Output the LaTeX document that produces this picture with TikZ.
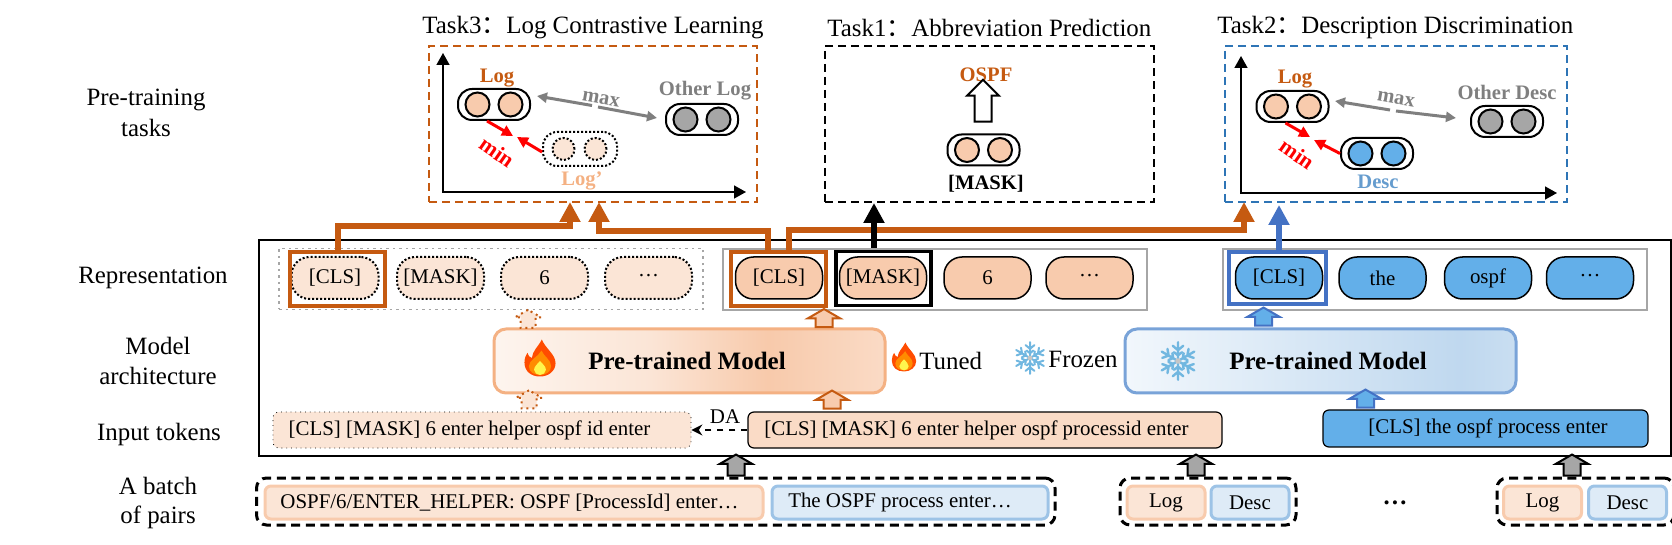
\documentclass[tikz,border=0pt]{standalone}
\usepackage{fontspec}
\setmainfont{Liberation Serif}
\newfontfamily\cjkfont{Noto Sans CJK SC}
\usetikzlibrary{arrows.meta,shapes.arrows}
\definecolor{rust}{HTML}{C55A11}
\definecolor{peach}{HTML}{F8CBAD}
\definecolor{peachlight}{HTML}{FBE5D6}
\definecolor{peachline}{HTML}{F4B183}
\definecolor{sky}{HTML}{63AFE9}
\definecolor{skylight}{HTML}{DEEBF7}
\definecolor{skyline}{HTML}{9DC3E6}
\definecolor{royal}{HTML}{4472C4}
\definecolor{taskblue}{HTML}{2E75B6}
\definecolor{midgray}{HTML}{7F7F7F}
\definecolor{softgray}{HTML}{A6A6A6}
\pgfdeclarehorizontalshading{modelorange}{100bp}{color(0bp)=(white!60!peachlight);color(25bp)=(white!60!peachlight);color(45bp)=(peachlight);color(60bp)=(peach!95!peachline);color(75bp)=(peach!70!white);color(100bp)=(peach!70!white)}
\pgfdeclarehorizontalshading{modelblue}{100bp}{color(0bp)=(skylight!40!white);color(25bp)=(skylight!40!white);color(42bp)=(skylight);color(68bp)=(skyline!65!white);color(75bp)=(skyline!55!white);color(100bp)=(skyline!55!white)}
\tikzset{
    txt/.style={font=\fontsize{12.45}{15}\selectfont,inner sep=0pt},
    tok/.style={font=\fontsize{10.45}{12}\selectfont},
    lab/.style={font=\fontsize{10.3}{12}\selectfont\bfseries,inner sep=0pt},
    pill/.style={tok,draw,line width=.75pt,rounded corners=9pt,minimum width=43.5pt,minimum height=21pt,inner sep=0pt},
    pilldot/.style={pill,fill=peachlight,line width=1pt,dash pattern=on 1pt off 1pt},
    square/.style={draw,line width=1.75pt,minimum width=47.5pt,minimum height=27pt,inner sep=0pt},
    group/.style={draw=softgray,line width=1.25pt,minimum width=212pt,minimum height=30.5pt,inner sep=0pt},
    model/.style={draw,line width=1.5pt,rounded corners=6pt,minimum width=195.5pt,minimum height=32pt,inner sep=0pt,font=\fontsize{12.5}{15}\selectfont\bfseries},
    input/.style={tok,rounded corners=3pt,minimum height=18pt,inner sep=0pt},
    logbox/.style={tok,draw=peach,fill=peachlight,line width=1.5pt,rounded corners=3pt,minimum height=16.5pt,minimum width=39pt,inner sep=0pt},
    descbox/.style={logbox,draw=skyline,fill=skylight},
    batch/.style={draw,line width=1.5pt,dash pattern=on 4.5pt off 2.8pt,rounded corners=5pt,minimum height=23.5pt,inner sep=0pt},
    taskbox/.style={draw,line width=1pt,dash pattern=on 4pt off 2.5pt,minimum height=78pt,inner sep=0pt},
    duo/.style={draw,fill=white,line width=1pt,rounded corners=7pt,minimum width=36pt,minimum height=15.5pt,inner sep=0pt},
    bead/.style={circle,draw,line width=1pt,minimum size=12pt,inner sep=0pt},
    block/.style={single arrow,draw,line width=1pt,shape border rotate=90,minimum height=9pt,minimum width=15pt,inner ysep=.5pt,inner xsep=3.75pt,single arrow head extend=3.75pt,single arrow tip angle=120},
    axisline/.style={line width=.75pt,{Triangle[length=6pt,width=6.5pt]}-{Triangle[length=6pt,width=6.5pt]}},
    route/.style={line width=3pt,-{Triangle[length=10pt,width=10pt]}},
    graymark/.style={draw=midgray,line width=1.5pt,-{Triangle[length=5pt,width=5pt]}},
    redmark/.style={draw=red,line width=1.5pt,-{Triangle[length=5.5pt,width=5.5pt]}},
}
\newcommand{\flameicon}[3]{%
    \begin{scope}[shift={(#1,#2)},scale=#3]
        \fill[orange!60!red] (0.05,-0.5) .. controls (0.15,-0.25) and (0.42,-0.1) .. (0.42,0.14) .. controls (0.42,0.36) and (0.22,0.5) .. (0,0.5) .. controls (-0.24,0.5) and (-0.42,0.36) .. (-0.42,0.12) .. controls (-0.42,0) and (-0.38,-0.08) .. (-0.34,-0.14) .. controls (-0.32,-0.06) and (-0.28,-0.02) .. (-0.22,0) .. controls (-0.2,-0.2) and (-0.05,-0.3) .. (0.05,-0.5) -- cycle;
        \fill[orange!90!yellow] (0.04,-0.2) .. controls (0.1,-0.05) and (0.3,0.05) .. (0.3,0.22) .. controls (0.3,0.38) and (0.15,0.46) .. (0,0.46) .. controls (-0.16,0.46) and (-0.3,0.38) .. (-0.3,0.22) .. controls (-0.3,0.05) and (-0.06,-0.02) .. (0.04,-0.2) -- cycle;
        \fill[yellow!70!white] (0,0.08) .. controls (0.06,0.16) and (0.16,0.22) .. (0.16,0.32) .. controls (0.16,0.4) and (0.08,0.46) .. (0,0.46) .. controls (-0.08,0.46) and (-0.16,0.4) .. (-0.16,0.32) .. controls (-0.16,0.22) and (-0.06,0.16) .. (0,0.08) -- cycle;
    \end{scope}%
}
\newcommand{\snowicon}[4]{%
    \begin{scope}[shift={(#1,#2)},scale=#3,line cap=round]
        \foreach \a in {0,60,...,300}{
            \draw[rotate=\a,line width=#4,cyan!35!skyline] (0,0)--(0,-0.47)
            (-0.13,-0.38)--(0,-0.27)--(0.13,-0.38)
            (-0.1,-0.22)--(0,-0.14)--(0.1,-0.22);
        }
        \fill[gray!45] (0,0) circle (0.07);
    \end{scope}%
}
\begin{document}
\begin{tikzpicture}[x=.5pt,y=-.5pt]
    \useasboundingbox (0,0) rectangle (1672,545);
    % row labels on the left
    \path
    (146,100) node[txt] (lblpre) {Pre-training}
    (146,128) node[txt] (lbltasks) {tasks}
    (153,278) node[txt] (lblrep) {Representation}
    (158,346) node[txt] (lblmodel) {Model}
    (158,376) node[txt] (lblarch) {architecture}
    (159,435) node[txt] (lblinput) {Input tokens}
    (158,486) node[txt] (lblbatch) {A batch}
    (158,517) node[txt] (lblpairs) {of pairs};
    % tasks
    \node[taskbox,draw=rust,minimum width=164pt] (task3) at (593,124) {};
    \node[taskbox,minimum width=164.5pt] (task1) at (989.5,124) {};
    \node[taskbox,draw=taskblue,minimum width=171pt] (task2) at (1396,124) {};
    \path
    (422,28) node[txt,anchor=west] (title3) {Task3{\cjkfont ：}Log Contrastive Learning}
    (827,28) node[txt,anchor=west] (title1) {Task1{\cjkfont ：}Abbreviation Prediction}
    (1217,28) node[txt,anchor=west] (title2) {Task2{\cjkfont ：}Description Discrimination};
    \draw[axisline] (443,53)--(443,192)--(746,192);
    \draw[axisline] (1241,56)--(1241,193)--(1557,193);
    \foreach \n/\x/\y/\c in {logC/494/104.5/peach,otherC/702/119.5/softgray,logD/1292.5/106.5/peach,descD/1377/153.5/sky,otherD/1507/121.5/softgray,maskT/983.5/150/peach}{
        \node[duo] (\n) at (\x,\y) {};
        \node[bead,fill=\c] (\n a) at (\x-16.5,\y) {};
        \node[bead,fill=\c] (\n b) at (\x+16.5,\y) {};
    }
    \node[duo,line width=1pt,dash pattern=on 1pt off 1pt,minimum width=37pt,minimum height=17pt] (logA) at (580,149) {};
    \node[bead,dash pattern=on 1pt off 1pt,fill=peachlight,minimum size=11pt] (logAa) at (563.5,149) {};
    \node[bead,dash pattern=on 1pt off 1pt,fill=peachlight,minimum size=11pt] (logAb) at (595.5,149) {};
    \path
    (497,78) node[lab,text=rust] (txtlogC) {Log}
    (705,91) node[lab,text=midgray] (txtotherC) {Other Log}
    (582,181) node[lab,text=peachline] (txtlogA) {Log’}
    (601,99) node[lab,text=midgray,rotate=-10] (txtmaxC) {max}
    (497,152) node[lab,text=red,rotate=-35,font=\fontsize{11}{12}\selectfont\bfseries] (txtminC) {min}
    (1295,79) node[lab,text=rust] (txtlogD) {Log}
    (1507,92) node[lab,text=midgray] (txtotherD) {Other Desc}
    (1378,182) node[lab,text=skyline!50!taskblue] (txtdescD) {Desc}
    (1396,99) node[lab,text=midgray,rotate=-10] (txtmaxD) {max}
    (1297,154) node[lab,text=red,rotate=-35,font=\fontsize{11}{12}\selectfont\bfseries] (txtminD) {min}
    (986,75) node[lab,text=rust] (txtospf) {OSPF}
    (986,184) node[lab] (txtmask) {[MASK]};
    \node[block,fill=white,minimum height=21pt,minimum width=15pt,single arrow tip angle=90] (predarrow) at (983,105) {};
    % max and min marks
    \coordinate (maxCl) at (537,96); \coordinate (gapCl) at (592,105.5);
    \coordinate (maxCr) at (657,118); \coordinate (gapCr) at (598,107);
    \coordinate (maxDl) at (1335,101); \coordinate (gapDl) at (1390,110);
    \coordinate (maxDr) at (1456,118); \coordinate (gapDr) at (1396,111);
    \foreach \a/\b in {gapCl/maxCl,gapCr/maxCr,gapDl/maxDl,gapDr/maxDr}
    \draw[graymark] (\a)--(\b);
    \coordinate (tipCa) at (513,136); \coordinate (tipCb) at (517,137);
    \coordinate (tipDa) at (1310,137); \coordinate (tipDb) at (1314,140);
    \draw[redmark] ([xshift=-3.5pt]logC.south)--(tipCa);
    \draw[redmark] ([yshift=-1.5pt]logA.west)--(tipCb);
    \draw[redmark] ([xshift=-3.5pt]logD.south)--(tipDa);
    \draw[redmark] (descD.west)--(tipDb);
    % outer frame and representation row
    \node[draw,line width=1.25pt,minimum width=706.25pt,minimum height=108pt,inner sep=0pt] (frame) at (965,348) {};
    \node[group,dotted,line width=.75pt] (repA) at (491,279) {};
    \node[group] (repS) at (935,279.5) {};
    \node[group] (repB) at (1435,279.5) {};
    \foreach \n/\x/\t in {dcls/335/{[CLS]},dmask/440.5/{[MASK]},dsix/544.5/{6},ddots/648.5/{\raisebox{2.5pt}{…}}}
    \node[pilldot] (\n) at (\x,278) {\t};
    \foreach \n/\x/\t in {scls/779/{[CLS]},smask/883/{[MASK]},ssix/987.5/{6},sdots/1089.5/{\raisebox{2.5pt}{…}}}
    \node[pill,fill=peach] (\n) at (\x,278) {\t};
    \foreach \n/\x/\t in {bcls/1279/{[CLS]},bthe/1382.5/{the},bospf/1488/{ospf},bdots/1590/{\raisebox{2.5pt}{…}}}
    \node[pill,fill=sky] (\n) at (\x,278) {\t};
    \node[square,draw=rust] (sqD) at (337.5,279) {};
    \node[square,draw=rust] (sqS) at (778.5,279) {};
    \node[square] (sqM) at (883.5,278.5) {};
    \node[square,draw=royal,minimum width=48.5pt,minimum height=26pt] (sqB) at (1277.5,278) {};
    % routes up to the tasks
    \coordinate (tipA) at (570,202);
    \coordinate (tipS) at (599,202);
    \coordinate (tipL) at (1244,202);
    \coordinate (tipM) at (874,203);
    \coordinate (tipB) at (1279,205);
    \draw[route,draw=rust,rust] (sqD.north)--++(0,-24)-|(tipA);
    \draw[route,draw=rust,rust] ([xshift=-5.25pt]sqS.north)--++(0,-19)-|(tipS);
    \draw[route,draw=rust,rust] ([xshift=5.25pt]sqS.north)--++(0,-20.5)-|(tipL);
    \draw[route] (tipM|-repS.north)--(tipM);
    \draw[route,draw=royal,royal] (tipB|-sqB.north)--(tipB);
    % models
    \node[model,draw=peachline,shading=modelorange] (modelL) at (689.5,361) {\hspace*{-2.5pt}Pre-trained Model};
    \node[model,draw=skyline!60!royal,shading=modelblue] (modelR) at (1320.5,361) {\hspace*{7.5pt}Pre-trained Model};
    \flameicon{540}{358}{37}
    \flameicon{904}{357}{29}
    \snowicon{1030}{358}{34}{1pt}
    \snowicon{1178}{361}{40}{1.2pt}
    \path
    (919,361) node[txt,anchor=west] (txttuned) {Tuned}
    (1048,359) node[txt,anchor=west] (txtfrozen) {Frozen};
    % input tokens
    \node[input,draw,fill=peachlight,line width=.4pt,dotted,minimum width=209pt] (inA) at (482,430) {\hspace*{-12.5pt}[CLS] [MASK] 6 enter helper ospf id enter};
    \node[input,draw,fill=peachlight!60!peach,line width=.6pt,minimum width=237pt] (inS) at (985,430) {\hspace*{-8.5pt}[CLS] [MASK] 6 enter helper ospf processid enter};
    \node[input,draw,fill=sky,line width=.6pt,minimum width=162.5pt,minimum height=18.5pt] (inB) at (1485.5,428.5) {\hspace*{2.5pt}[CLS] the ospf process enter};
    \draw[dashed,line width=1pt,-{Stealth[length=5.5pt,width=5.5pt]}] (inS.west)--(inS.west-|inA.east);
    \node[tok,inner sep=0pt] (txtda) at (725,417) {DA};
    % small block arrows
    \node[block,draw=rust,fill=peachlight,dotted,minimum width=12pt,inner xsep=3.25pt,single arrow head extend=2.75pt] (upA1) at (528,321) {};
    \node[block,draw=rust,fill=peachlight,dotted,minimum width=12pt,inner xsep=3.25pt,single arrow head extend=2.75pt] (upA2) at (529,401.5) {};
    \node[block,draw=rust,fill=peach] (upS1) at (824,320.5) {};
    \node[block,draw=rust,fill=peach] (upS2) at (832,402) {};
    \node[block,draw=royal,fill=sky] (upB1) at (1263.5,319) {};
    \node[block,draw=royal,fill=sky] (upB2) at (1365.5,401) {};
    % batch of pairs
    \node[batch,minimum width=399.25pt] (batch1) at (655.75,501.5) {};
    \node[batch,minimum width=88pt] (batch2) at (1208,501.5) {};
    \node[batch,minimum width=88.5pt] (batch3) at (1585.5,501.5) {};
    \node[logbox,minimum width=249pt] (log1) at (514,502.5) {\hspace*{-4.5pt}OSPF/6/ENTER\_HELPER: OSPF [ProcessId] enter…};
    \node[descbox,minimum width=138pt] (desc1) at (910,502.5) {\hspace*{-10pt}The OSPF process enter…};
    \foreach \n/\x in {log2/1166,log3/1542.5}
    \node[logbox] (\n) at (\x,502.5) {Log};
    \foreach \n/\x in {desc2/1250,desc3/1627.5}
    \node[descbox] (\n) at (\x,502.5) {Desc};
    \node[tok,inner sep=0pt,font=\fontsize{12.4}{15}\selectfont\bfseries] (txtdots) at (1395,503) {…};
    \foreach \n/\x in {up1/736,up2/1196,up3/1572}
    \node[block,fill=softgray,minimum height=10.5pt] (\n) at (\x,467.5) {};
\end{tikzpicture}
\end{document}
